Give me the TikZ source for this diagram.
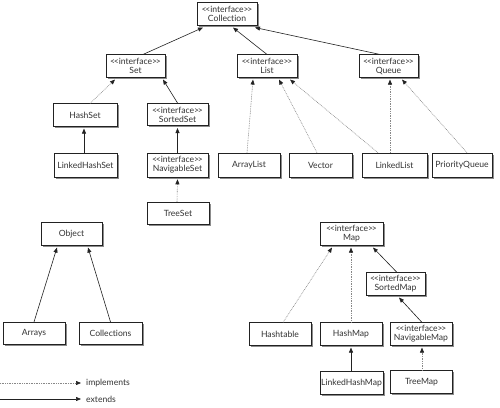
\documentclass[tikz,border=0pt]{standalone}
\usepackage{fontspec}
\setmainfont{Lato}[Ligatures=NoCommon]
\usetikzlibrary{arrows.meta,shadows}
\definecolor{txt}{HTML}{333333}
\definecolor{ln}{HTML}{222222}
\definecolor{dotc}{HTML}{888888}
\newcommand{\intf}{<\kern-1.2pt<interface>\kern-1.2pt>}
\begin{document}
\begin{tikzpicture}[x=1pt,y=-1pt,
  cls/.style={draw=ln,fill=white,line width=0.6pt,minimum width=62pt,minimum height=22.5pt,
    inner sep=1pt,align=center,text=txt,font=\fontsize{8.6}{9}\selectfont,
    drop shadow={shadow xshift=1.6pt,shadow yshift=-1.6pt,fill=black!45,opacity=1}},
  ext/.style={draw=ln,line width=0.6pt,-{Triangle[length=5pt,width=4pt]}},
  impl/.style={draw=dotc,line width=0.6pt,dash pattern=on 0.8pt off 0.9pt,
    -{Triangle[length=5pt,width=4pt,color=ln,fill=ln]}},
  lbl/.style={text=txt,font=\fontsize{8.6}{9}\selectfont,inner sep=0pt,anchor=west}]
\useasboundingbox (0,0) rectangle (500,407);
\fill[white] (0,0) rectangle (500,407);
% collection hierarchy
\node[cls,minimum width=60pt] (coll) at (227,14) {\intf\\Collection};
\node[cls,minimum width=59pt] (set) at (135.5,66) {\intf\\Set};
\node[cls,minimum width=60pt] (list) at (267,66) {\intf\\List};
\node[cls,minimum width=59pt] (queue) at (388.5,66) {\intf\\Queue};
\node[cls,minimum width=64pt] (hashset) at (85,115) {HashSet};
\node[cls,minimum width=61pt] (sortedset) at (177.5,114.5) {\intf\\SortedSet};
\node[cls,minimum width=63pt,minimum height=24pt] (lhs) at (85.5,165) {LinkedHashSet};
\node[cls,minimum width=61pt,minimum height=24pt] (navset) at (177.5,165) {\intf\\NavigableSet};
\node[cls] (treeset) at (178,213.5) {TreeSet};
\node[cls,minimum height=24pt] (arraylist) at (249,165) {ArrayList};
\node[cls,minimum width=63pt,minimum height=24pt] (vector) at (320.5,165) {Vector};
\node[cls,minimum width=65pt,minimum height=24pt] (linkedlist) at (394.5,165) {LinkedList};
\node[cls,minimum width=60pt,minimum height=24pt] (pq) at (462,165) {PriorityQueue};
% object
\node[cls,minimum width=61pt] (object) at (71.5,234) {Object};
\node[cls] (arrays) at (34,333.5) {Arrays};
\node[cls,minimum width=63pt] (colls) at (110.5,333.5) {Collections};
% map hierarchy
\node[cls,minimum width=63pt] (map) at (351.5,234) {\intf\\Map};
\node[cls,minimum width=59pt] (sortedmap) at (395.5,284) {\intf\\SortedMap};
\node[cls] (hashtable) at (280,334) {Hashtable};
\node[cls] (hashmap) at (351,334) {HashMap};
\node[cls] (navmap) at (421,334) {\intf\\NavigableMap};
\node[cls,minimum width=63pt] (lhm) at (351.5,383) {LinkedHashMap};
\node[cls] (treemap) at (421.5,382) {TreeMap};
% connectors
\draw[ext] ([xshift=7.5pt]set.north) -- ([xshift=-24pt,yshift=-2pt]coll.south);
\draw[ext] (list.north) -- ([xshift=6pt,yshift=-2pt]coll.south);
\draw[ext] ([xshift=-8.5pt]queue.north) -- ([xshift=28pt,yshift=-2pt]coll.south);
\draw[impl] ([xshift=5pt]hashset.north) -- ([xshift=-20.5pt,yshift=-2pt]set.south);
\draw[ext] (sortedset.north) -- ([xshift=27.5pt,yshift=-2pt]set.south);
\draw[ext] ([xshift=-1.5pt]lhs.north) -- ([xshift=-1pt,yshift=-2pt]hashset.south);
\draw[ext] (navset.north) -- ([yshift=-2pt]sortedset.south);
\draw[impl] ([xshift=-1pt]treeset.north) -- ([yshift=-2pt]navset.south);
\draw[impl] ([xshift=-2pt]arraylist.north) -- ([xshift=-14pt,yshift=-2pt]list.south);
\draw[impl] ([xshift=-3.5pt]vector.north) -- ([xshift=12pt,yshift=-2pt]list.south);
\draw[impl] ([xshift=-16.5pt]linkedlist.north) -- ([xshift=23pt,yshift=-2pt]list.south);
\draw[impl] ([xshift=-4.5pt]linkedlist.north) -- ([xshift=1.5pt,yshift=-2pt]queue.south);
\draw[impl] ([xshift=5pt]pq.north) -- ([xshift=13.5pt,yshift=-2pt]queue.south);
\draw[ext] (arrays.north) -- ([xshift=-14.5pt,yshift=-2pt]object.south);
\draw[ext] (colls.north) -- ([xshift=16.5pt,yshift=-2pt]object.south);
\draw[impl] ([xshift=3pt]hashtable.north) -- ([xshift=-19.5pt,yshift=-2pt]map.south);
\draw[impl] (hashmap.north) -- ([xshift=-0.5pt,yshift=-2pt]map.south);
\draw[ext] ([xshift=1.5pt]sortedmap.north) -- ([xshift=21.5pt,yshift=-2pt]map.south);
\draw[ext] ([xshift=1pt]navmap.north) -- ([xshift=3.5pt,yshift=-2pt]sortedmap.south);
\draw[ext] ([xshift=-0.5pt]lhm.north) -- ([yshift=-2pt]hashmap.south);
\draw[impl] ([xshift=0.5pt]treemap.north) -- ([xshift=1pt,yshift=-2pt]navmap.south);
% legend
\coordinate (li0) at (0,383);
\node[lbl] (limpl) at (86,383) {implements};
\coordinate (le0) at (0,399);
\node[lbl] (lext) at (86,399) {extends};
\draw[impl] (li0) -- ([xshift=-5pt]limpl.west);
\draw[ext] (le0) -- ([xshift=-5pt]lext.west);
\end{tikzpicture}
\end{document}
